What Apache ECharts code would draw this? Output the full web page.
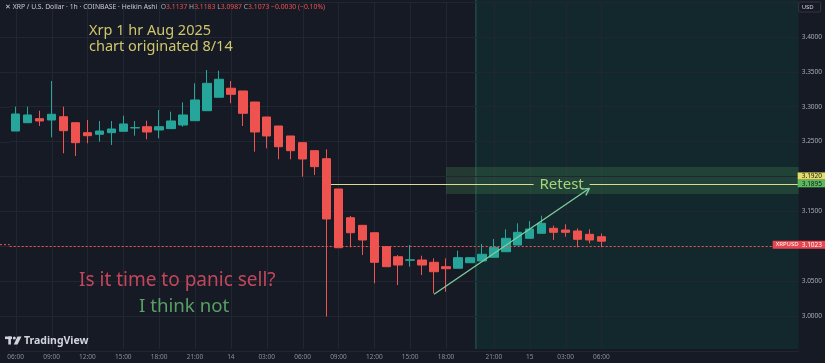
<!DOCTYPE html>
<html><head><meta charset="utf-8">
<script src="https://cdn.jsdelivr.net/npm/echarts@6/dist/echarts.min.js"></script>
<style>html,body{margin:0;padding:0;background:#161a25}#c{width:825px;height:363px}</style>
</head><body><div id="c"></div>
<script>
// ---- data ----
const categories = [
 '13 06:00','13 07:00','13 08:00','13 09:00','13 10:00','13 11:00','13 12:00','13 13:00','13 14:00','13 15:00',
 '13 16:00','13 17:00','13 18:00','13 19:00','13 20:00','13 21:00','13 22:00','13 23:00','14 00:00','14 01:00',
 '14 02:00','14 03:00','14 04:00','14 05:00','14 06:00','14 07:00','14 08:00','14 09:00','14 10:00','14 11:00',
 '14 12:00','14 13:00','14 14:00','14 15:00','14 16:00','14 17:00','14 18:00','14 19:00','14 20:00','14 20:30',
 '14 21:00','14 22:00','14 23:00','15 00:00','15 01:00','15 02:00','15 03:00','15 04:00','15 05:00','15 06:00'
];
const tickLabels = {
 '13 06:00':'06:00','13 09:00':'09:00','13 12:00':'12:00','13 15:00':'15:00','13 18:00':'18:00','13 21:00':'21:00',
 '14 00:00':'14','14 03:00':'03:00','14 06:00':'06:00','14 09:00':'09:00','14 12:00':'12:00','14 15:00':'15:00',
 '14 18:00':'18:00','14 21:00':'21:00','15 00:00':'15','15 03:00':'03:00','15 06:00':'06:00'
};
const openP  = [3.2652,3.2771,3.2829,3.2810,3.2857,3.2771,3.2628,3.2605,3.2628,3.2648,3.2697,3.2714,3.2667,3.2686,3.2738,3.2800,3.2943,3.3136,3.3265,3.3226,3.3068,3.2853,3.2724,3.2581,3.2485,3.2370,3.2255,3.1821,3.1409,3.1300,3.1194,3.0994,3.0850,3.0800,3.0803,3.0770,3.0707,3.0685,3.0764,3.0789,3.0842,3.0922,3.1018,3.1114,3.1186,3.1257,3.1233,3.1219,3.1171,3.1137];
const closeP = [3.2896,3.2882,3.2796,3.2892,3.2657,3.2485,3.2585,3.2652,3.2681,3.2753,3.2700,3.2638,3.2714,3.2796,3.2882,3.3097,3.3336,3.3394,3.3178,3.2906,3.2638,3.2581,3.2427,3.2370,3.2251,3.2141,3.1391,3.0979,3.1194,3.1090,3.0770,3.0707,3.0731,3.0805,3.0731,3.0635,3.0678,3.0836,3.0836,3.0885,3.0985,3.1114,3.1200,3.1247,3.1329,3.1200,3.1200,3.1100,3.1090,3.1073];
const lowP   = [3.2652,3.2771,3.2724,3.2562,3.2333,3.2294,3.2476,3.2499,3.2452,3.2648,3.2585,3.2533,3.2548,3.2686,3.2714,3.2800,3.2943,3.3136,3.3050,3.2724,3.2356,3.2404,3.2247,3.2247,3.1997,3.2022,2.9993,3.0979,3.0985,3.0875,3.0469,3.0707,3.0444,3.0707,3.0588,3.0325,3.0348,3.0685,3.0764,3.0789,3.0842,3.0922,3.1018,3.1114,3.1186,3.1090,3.1137,3.0985,3.1042,3.0987];
const highP  = [3.3001,3.3001,3.2943,3.3369,3.3001,3.2771,3.2810,3.2796,3.2796,3.2872,3.2796,3.2800,3.2953,3.2929,3.3064,3.3336,3.3527,3.3517,3.3369,3.3226,3.3068,3.2853,3.2724,3.2581,3.2485,3.2370,3.2390,3.1821,3.1434,3.1300,3.1194,3.0994,3.0875,3.1018,3.0865,3.0827,3.0827,3.0936,3.0845,3.1032,3.1104,3.1243,3.1329,3.1362,3.1438,3.1295,3.1315,3.1257,3.1243,3.1183];
const priceTicks = [3.00, 3.05, 3.10, 3.15, 3.20, 3.25, 3.30, 3.35, 3.40];
const lastPrice = 3.1023;
const retestLevel = 3.1895;
const retestLevelHi = 3.1920;
const retestZone = [3.1749, 3.2136];
const retestZoneFrom = '14 18:00';
const retestLineFrom = '14 08:00';
const retestTextAt = '15 02:00';
const sessionFrom = '14 20:30';
const trendFrom = ['14 17:00', 3.0311];
const trendTo = ['15 05:00', 3.1831];
const headerOHLC = ['3.1137','3.1183','3.0987','3.1073','−0.0030 (−0.10%)'];

// ---- chart ----
(function () {
const padCats = categories.slice();
for (let i = categories.length; i < 66; i++) padCats.push('pad' + i);
const idx = c => categories.indexOf(c);

const chart = echarts.init(document.getElementById('c'));
const F = 'Noto Sans';
chart.setOption({
  animation: false,
  backgroundColor: '#161a25',
  grid: {left: 9.7, right: 24.3, top: 2.1, bottom: 12.1},
  xAxis: {
    type: 'category', data: padCats, boundaryGap: true,
    axisLine: {show: false}, axisTick: {show: false}, splitLine: {show: false},
    axisLabel: {
      interval: (i, v) => tickLabels[v] !== undefined,
      formatter: v => tickLabels[v] || '',
      color: '#8b8e97', fontSize: 6.5, margin: 3, fontFamily: F
    }
  },
  yAxis: {
    type: 'value', position: 'right', min: 2.95, max: 3.45, interval: 0.05,
    axisLine: {show: false}, axisTick: {show: false},
    splitLine: {lineStyle: {color: '#222632', width: 1}},
    axisLabel: {
      formatter: v => priceTicks.some(t => Math.abs(t - v) < 1e-6) ? v.toFixed(4) : '',
      color: '#a9acb5', fontSize: 6.5, margin: 3, fontFamily: F
    }
  },
  series: [{
    type: 'candlestick', barWidth: 9, z: 3,
    data: openP.map((o, i) => [o, closeP[i], lowP[i], highP[i]]),
    itemStyle: {color: '#26a69a', color0: '#ef5350', borderColor: '#26a69a', borderColor0: '#ef5350', borderWidth: 1},
    markLine: {
      silent: true, symbol: 'none', label: {show: false},
      lineStyle: {color: '#ef5350', type: [2, 2], width: 1},
      data: [{yAxis: lastPrice}]
    }
  }]
});

const px = i => chart.convertToPixel({xAxisIndex: 0}, i);
const py = p => chart.convertToPixel({yAxisIndex: 0}, p);
const bw = px(1) - px(0);
const gL = px(0) - bw / 2;
const gR = px(65) + bw / 2;
const gT = py(3.45), gB = py(2.95) - 2;
const g = [];
// extend horizontal grid lines and price line to the left edge
priceTicks.forEach(p => {
  const y = Math.round(py(p)) + 0.5;
  g.push({type: 'line', z: -5, shape: {x1: 0, y1: y, x2: gL, y2: y}, style: {stroke: '#222632', lineWidth: 1}});
});
{
  const y = py(lastPrice);
  g.push({type: 'line', z: 5, shape: {x1: 0, y1: y, x2: gL, y2: y}, style: {stroke: '#ef5350', lineWidth: 1, lineDash: [2, 2]}});
}
// vertical grid lines
Object.keys(tickLabels).forEach(c => {
  const x = Math.round(px(idx(c))) + 0.5;
  g.push({type: 'line', z: -5, shape: {x1: x, y1: gT, x2: x, y2: gB}, style: {stroke: '#222632', lineWidth: 1}});
});
// session band
const bx = px(idx(sessionFrom)) - bw / 2;
g.push({type: 'rect', z: -10, shape: {x: bx, y: 0, width: gR - bx, height: gB}, style: {fill: '#13282c'}});
g.push({type: 'line', z: -4, shape: {x1: bx, y1: 0, x2: bx, y2: gB}, style: {stroke: '#1f6157', lineWidth: 1}});
// retest zone
const rx = px(idx(retestZoneFrom));
g.push({type: 'rect', z: -4, shape: {x: rx, y: py(retestZone[1]), width: gR - rx, height: py(retestZone[0]) - py(retestZone[1])},
  style: {fill: 'rgba(72,140,86,0.28)'}});
// retest line and text
const ly = Math.round(py(retestLevel)) + 0.5;
const tx = px(idx(retestTextAt)) + bw * 0.67;
const lx0 = px(idx(retestLineFrom)) + 4.5;
g.push({type: 'line', z: 5, shape: {x1: lx0, y1: ly, x2: tx - 28, y2: ly}, style: {stroke: '#dcdc8c', lineWidth: 1}});
g.push({type: 'line', z: 5, shape: {x1: tx + 28, y1: ly, x2: gR, y2: ly}, style: {stroke: '#dcdc8c', lineWidth: 1}});
g.push({type: 'text', z: 6, x: tx, y: ly, style: {text: 'Retest', fill: '#a6d47c', font: '15px "Noto Sans"', align: 'center', verticalAlign: 'middle'}});
// trend arrow
const ax0 = px(idx(trendFrom[0])), ay0 = py(trendFrom[1]);
const ax1 = px(idx(trendTo[0])), ay1 = py(trendTo[1]);
const ang = Math.atan2(ay1 - ay0, ax1 - ax0);
const ah = 8;
const arrowStyle = {stroke: '#7fcf9c', lineWidth: 1.3};
g.push({type: 'line', z: 6, shape: {x1: ax0, y1: ay0, x2: ax1, y2: ay1}, style: arrowStyle});
[0.5, -0.5].forEach(d => {
  g.push({type: 'line', z: 6, shape: {x1: ax1, y1: ay1, x2: ax1 - ah * Math.cos(ang + d), y2: ay1 - ah * Math.sin(ang + d)}, style: arrowStyle});
});
// right-axis price tags
const W = 825;
const gy = py(retestLevel);
g.push({type: 'rect', z: 8, shape: {x: gR - 1, y: gy - 4.3, width: W - gR + 1, height: 7.8}, style: {fill: '#5cb85c'}});
g.push({type: 'text', z: 9, x: gR + 3, y: gy, style: {text: retestLevel.toFixed(4), fill: '#131722', font: '6.5px "Noto Sans"', verticalAlign: 'middle'}});
g.push({type: 'rect', z: 8, shape: {x: gR - 1, y: gy - 11.4, width: W - gR + 1, height: 7.1}, style: {fill: '#e2dd66'}});
g.push({type: 'text', z: 9, x: gR + 3, y: gy - 7.8, style: {text: retestLevelHi.toFixed(4), fill: '#131722', font: '6.5px "Noto Sans"', verticalAlign: 'middle'}});
const cy = py(lastPrice);
g.push({type: 'rect', z: 8, shape: {x: gR - 26, y: cy - 4, width: W - gR + 26, height: 8}, style: {fill: '#e8454f'}});
g.push({type: 'text', z: 9, x: gR - 23, y: cy, style: {text: 'XRPUSD', fill: '#ffffff', font: '6px "Noto Sans"', verticalAlign: 'middle'}});
g.push({type: 'text', z: 9, x: gR + 3, y: cy, style: {text: lastPrice.toFixed(4), fill: '#ffffff', font: '6.5px "Noto Sans"', verticalAlign: 'middle'}});
// USD box
g.push({type: 'rect', z: 8, shape: {x: gR, y: 2, width: 22, height: 10, r: 1}, style: {fill: '#161a25', stroke: '#3a3e4a', lineWidth: 0.8}});
g.push({type: 'text', z: 9, x: gR + 3, y: 7.2, style: {text: 'USD', fill: '#d1d4dc', font: '6px "Noto Sans"', verticalAlign: 'middle'}});
// header
g.push({type: 'text', z: 9, x: 5, y: 7.5, style: {
  text: '{w|✕ XRP / U.S. Dollar · 1h · COINBASE · Heikin Ashi}  {g|O}{r|' + headerOHLC[0] + '} {g|H}{r|' + headerOHLC[1] + '} {g|L}{r|' + headerOHLC[2] + '} {g|C}{r|' + headerOHLC[3] + ' ' + headerOHLC[4] + '}',
  verticalAlign: 'middle', font: '6.8px "Noto Sans"',
  rich: {w: {fill: '#c8cad2', fontSize: 6.8, fontFamily: F}, g: {fill: '#a9acb5', fontSize: 6.8, fontFamily: F}, r: {fill: '#ef5350', fontSize: 6.8, fontFamily: F}}
}});
// annotations
g.push({type: 'text', z: 9, x: 89, y: 30.5, style: {text: 'Xrp 1 hr Aug 2025', fill: '#cfc76c', font: '14.5px "Noto Sans"', verticalAlign: 'middle'}});
g.push({type: 'text', z: 9, x: 89, y: 46.5, style: {text: 'chart originated 8/14', fill: '#cfc76c', font: '14.5px "Noto Sans"', verticalAlign: 'middle'}});
g.push({type: 'text', z: 9, x: 79, y: 280.5, style: {text: 'Is it time to panic sell?', fill: '#c4465b', font: '19px "Noto Sans"', verticalAlign: 'middle'}});
g.push({type: 'text', z: 9, x: 139, y: 307, style: {text: 'I think not', fill: '#58a064', font: '18.7px "Noto Sans"', verticalAlign: 'middle'}});
// TradingView logo
g.push({type: 'rect', z: 9, shape: {x: 5, y: 336.5, width: 7, height: 2.6}, style: {fill: '#d1d4dc'}});
g.push({type: 'rect', z: 9, shape: {x: 8.3, y: 336.5, width: 2.6, height: 8}, style: {fill: '#d1d4dc'}});
g.push({type: 'circle', z: 9, shape: {cx: 14.3, cy: 338, r: 1.5}, style: {fill: '#d1d4dc'}});
g.push({type: 'polygon', z: 9, shape: {points: [[17.5, 336.5], [21.5, 336.5], [17.5, 344.5], [13.8, 344.5]]}, style: {fill: '#d1d4dc'}});
g.push({type: 'text', z: 9, x: 24, y: 340.8, style: {text: 'TradingView', fill: '#d1d4dc', font: 'bold 10.5px "Noto Sans"', verticalAlign: 'middle'}});
chart.setOption({graphic: {elements: g}});
})();
</script>
</body></html>
